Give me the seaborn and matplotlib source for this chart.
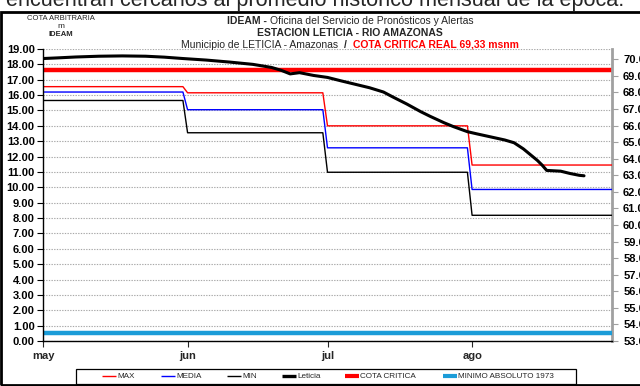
import matplotlib
matplotlib.use("Agg")
import matplotlib.pyplot as plt
from matplotlib.lines import Line2D
from matplotlib.patches import Rectangle
import numpy as np
import pandas as pd
import seaborn as sns

# ---- data -------------------------------------------------------------
month_starts = ["2012-05-01", "2012-06-01", "2012-07-01", "2012-08-01"]
month_labels = ["may", "jun", "jul", "ago"]

# historical monthly levels (cota arbitraria, m)
max_mensual = [16.55, 16.15, 14.00, 11.45]
media_mensual = [16.20, 15.05, 12.57, 9.86]
min_mensual = [15.65, 13.55, 10.98, 8.18]

# observed daily level at Leticia
leticia_fechas = [
    "2012-05-01", "2012-05-04", "2012-05-08", "2012-05-13", "2012-05-18",
    "2012-05-23", "2012-05-27", "2012-05-31", "2012-06-05", "2012-06-10",
    "2012-06-15", "2012-06-19", "2012-06-21", "2012-06-23", "2012-06-25",
    "2012-06-28", "2012-07-01", "2012-07-04", "2012-07-07", "2012-07-10",
    "2012-07-13", "2012-07-15", "2012-07-18", "2012-07-21", "2012-07-23",
    "2012-07-26", "2012-07-28", "2012-07-31", "2012-08-02", "2012-08-05",
    "2012-08-08", "2012-08-10", "2012-08-12", "2012-08-15", "2012-08-16",
    "2012-08-17", "2012-08-20", "2012-08-22", "2012-08-24", "2012-08-25",
]
leticia_nivel = [
    18.38, 18.42, 18.48, 18.53, 18.55,
    18.53, 18.47, 18.38, 18.28, 18.15,
    18.00, 17.80, 17.62, 17.38, 17.46,
    17.28, 17.15, 16.92, 16.70, 16.48,
    16.20, 15.88, 15.42, 14.92, 14.62,
    14.20, 13.95, 13.62, 13.48, 13.28,
    13.08, 12.90, 12.50, 11.75, 11.45,
    11.10, 11.05, 10.90, 10.78, 10.75,
]

cota_critica_msnm = 69.33      # right axis (msnm)
minimo_absoluto_1973 = 0.55    # left axis (m)

right_axis_limits = (53.0, 70.62)
left_axis_limits = (0.0, 19.0)

legend_labels = ["MAX", "MEDIA", "MIN", "Leticia", "COTA CRITICA",
                 "MINIMO ABSOLUTO 1973"]

# ---- tables -----------------------------------------------------------
dias = pd.date_range("2012-05-01", "2012-08-31", freq="D")
mes_idx = dias.month - 5
mensual = pd.DataFrame({
    "fecha": dias,
    "MAX": np.asarray(max_mensual)[mes_idx],
    "MEDIA": np.asarray(media_mensual)[mes_idx],
    "MIN": np.asarray(min_mensual)[mes_idx],
    "COTA CRITICA": cota_critica_msnm,
    "MINIMO ABSOLUTO 1973": minimo_absoluto_1973,
})
leticia = pd.DataFrame({"fecha": pd.to_datetime(leticia_fechas),
                        "nivel": leticia_nivel})

# ---- figure -----------------------------------------------------------
sns.set_style("white")
plt.rcParams["font.family"] = ["Liberation Sans", "DejaVu Sans"]
NARROW = ["Liberation Sans Narrow", "Liberation Sans", "DejaVu Sans"]

W, H = 640, 386
fig = plt.figure(figsize=(W / 100, H / 100), dpi=100)
fig.patch.set_facecolor("white")

ax = fig.add_axes([43 / W, (H - 341) / H, (612 - 43) / W, (341 - 49) / H])
ax2 = ax.twinx()

C_MAX, C_MEDIA, C_MIN = "#ff0000", "#0000ff", "#000000"
C_LET, C_COTA, C_MINABS = "#000000", "#ff0000", "#1b9cd8"
styles = [(C_MAX, 1.0), (C_MEDIA, 1.0), (C_MIN, 1.0),
          (C_LET, 2.4), (C_COTA, 3.0), (C_MINABS, 3.0)]

sns.lineplot(data=mensual, x="fecha", y="MINIMO ABSOLUTO 1973", ax=ax,
             color=C_MINABS, lw=3.2, legend=False)
sns.lineplot(data=mensual, x="fecha", y="MIN", ax=ax, color=C_MIN, lw=1.0,
             legend=False)
sns.lineplot(data=mensual, x="fecha", y="MEDIA", ax=ax, color=C_MEDIA, lw=1.0,
             legend=False)
sns.lineplot(data=mensual, x="fecha", y="MAX", ax=ax, color=C_MAX, lw=1.0,
             legend=False)
sns.lineplot(data=mensual, x="fecha", y="COTA CRITICA", ax=ax2, color=C_COTA,
             lw=3.2, legend=False)
sns.lineplot(data=leticia, x="fecha", y="nivel", ax=ax, color=C_LET, lw=2.2,
             legend=False, estimator=None)

# left axis on top so Leticia crosses over the critical level line
ax.set_zorder(ax2.get_zorder() + 1)
ax.patch.set_visible(False)

ax.set_xlim(pd.Timestamp("2012-05-01"), pd.Timestamp("2012-08-31"))
ax.set_ylim(*left_axis_limits)
ax2.set_ylim(*right_axis_limits)

ax.set_yticks(np.arange(0, 20, 1))
ax.set_yticklabels([f"{v:.2f}" for v in np.arange(0, 20, 1)],
                   fontsize=8, fontweight="bold")
ax2.set_yticks(np.arange(53, 71, 1))
ax2.set_yticklabels([f"{v:.1f}" for v in np.arange(53, 71, 1)],
                    fontsize=8, fontweight="bold")
ax.set_xticks(pd.to_datetime(month_starts))
ax.set_xticklabels(month_labels, fontsize=8, fontweight="bold")

ax.set_xlabel("")
ax.set_ylabel("")
ax2.set_ylabel("")

ax.yaxis.grid(True, linestyle=(0, (1.2, 1.2)), color="#a8a8a8", lw=0.8)
ax.xaxis.grid(False)
ax2.grid(False)

for a in (ax, ax2):
    a.spines["top"].set_visible(False)
ax.spines["left"].set_color("black")
ax.spines["left"].set_linewidth(1.0)
ax.spines["bottom"].set_color("black")
ax.spines["bottom"].set_linewidth(1.0)
ax.spines["right"].set_visible(False)
ax2.spines["left"].set_visible(False)
ax2.spines["bottom"].set_visible(False)
ax2.spines["right"].set_color("#a0a0a0")
ax2.spines["right"].set_linewidth(2.0)

ax.tick_params(axis="y", direction="out", length=4, width=0.8, pad=2,
               colors="black", left=True)
ax.tick_params(axis="x", direction="out", length=4, width=0.8, pad=3,
               bottom=True)
ax2.tick_params(axis="y", direction="out", length=4, width=0.8, pad=4,
                color="#a0a0a0", labelcolor="black", right=True)

# ---- titles -----------------------------------------------------------
renderer = fig.canvas.get_renderer()


def ypos(px_from_top):
    return (H - px_from_top) / H


def centred_line(pieces, cx, y, size):
    """Draw several differently styled pieces as one centred line."""
    texts = []
    for s, kw in pieces:
        t = fig.text(0, ypos(y), s, fontsize=size, va="baseline", ha="left",
                     **kw)
        texts.append(t)
    widths = [t.get_window_extent(renderer).width for t in texts]
    x = cx - sum(widths) / 2
    for t, w in zip(texts, widths):
        t.set_x(x / W)
        x += w


centred_line([("IDEAM - ", dict(fontweight="bold", family=NARROW)),
              ("Oficina del Servicio de Pronósticos y Alertas",
               dict(family=NARROW))], 350, 24, 7.5)
centred_line([("ESTACION LETICIA - RIO AMAZONAS",
               dict(fontweight="bold", family=NARROW))], 350, 36, 7.5)
centred_line([("Municipio de LETICIA - Amazonas  ", dict(family=NARROW)),
              ("/  ", dict(fontweight="bold", family=NARROW)),
              ("COTA CRITICA REAL 69,33 msnm",
               dict(fontweight="bold", color="#ff0000", family=NARROW))],
             350, 47.5, 7.5)

fig.text(61 / W, ypos(19.5), "COTA ARBITRARIA", fontsize=5.5,
         ha="center", va="baseline", family=NARROW)
fig.text(61 / W, ypos(28), "m", fontsize=6, ha="center",
         va="baseline", family=NARROW)
fig.text(61 / W, ypos(36), "IDEAM", fontsize=5.5, ha="center",
         va="baseline", fontweight="bold", family=NARROW)

# sentence from the surrounding document, clipped by the top edge
fig.text(6 / W, ypos(6),
         "encuentran cercanos al promedio histórico mensual de la época.",
         fontsize=15.6, ha="left", va="baseline")

# ---- frame around the chart ------------------------------------------
fig.add_artist(Rectangle((1.2 / W, 1.2 / H), 1.2, (H - 12 - 1.2) / H,
                         transform=fig.transFigure, fill=False,
                         ec="black", lw=2.0, clip_on=False))

# ---- legend box -------------------------------------------------------
leg_top, leg_bot = 368.5, 383.5
fig.add_artist(Rectangle((75.5 / W, ypos(leg_bot)), 500 / W,
                         (leg_bot - leg_top) / H, transform=fig.transFigure,
                         fill=True, fc="white", ec="black", lw=0.9))
leg_y = (leg_top + leg_bot) / 2
sample_x = [102, 161, 227, 282, 345, 443]
for x0, lab, (col, lw) in zip(sample_x, legend_labels, styles):
    fig.add_artist(Line2D([x0 / W, (x0 + 14) / W], [ypos(leg_y)] * 2,
                          transform=fig.transFigure, color=col, lw=lw,
                          solid_capstyle="butt"))
    fig.text((x0 + 15) / W, ypos(leg_y), lab, fontsize=5.9, family=NARROW,
             ha="left", va="center")

fig.savefig("out.png", dpi=100, facecolor="white")
